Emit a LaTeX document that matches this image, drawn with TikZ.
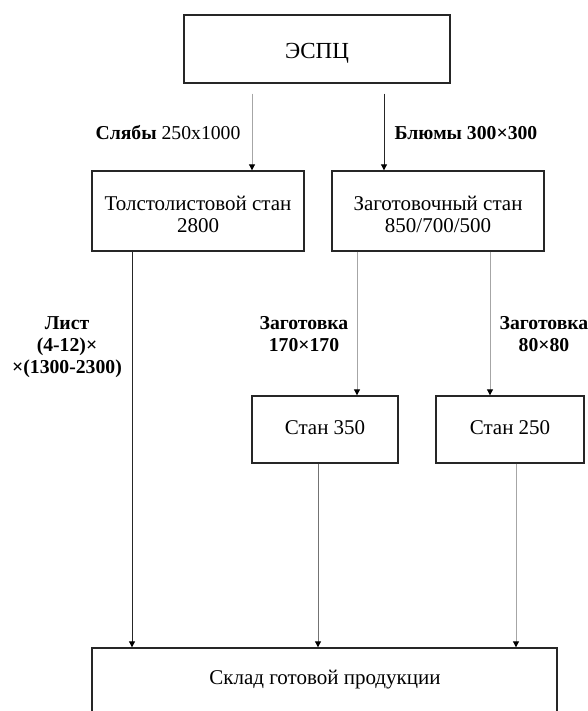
\documentclass[tikz,border=0pt]{standalone}
\usepackage{fontspec}
\setmainfont{Liberation Serif}
\usetikzlibrary{arrows.meta}
\begin{document}
\begin{tikzpicture}[x=1pt,y=-1pt,
  box/.style={draw=black!85, line width=1.4pt, inner sep=0pt},
  btxt/.style={inner sep=0pt, align=center, font=\fontsize{21}{22}\selectfont},
  lbl/.style={inner sep=0pt, align=center, font=\fontsize{19.7}{22}\selectfont},
  conn/.style={line width=1pt, -{Triangle[length=6pt,width=6pt,color=black]}},
  lite/.style={conn, draw=black!35},
  mid/.style={conn, draw=black!55},
  dark/.style={conn, draw=black!85}]
\useasboundingbox (0,0) rectangle (588,711);
\fill[white] (0,0) rectangle (588,711);
% boxes
\node[box, minimum width=266pt, minimum height=68pt] (espc) at (317,49) {};
\node[btxt, font=\fontsize{23}{24}\selectfont] (espc-t) at (317,53) {ЭСПЦ};
\node[box, minimum width=212pt, minimum height=80pt] (tol) at (198,211) {};
\node[btxt] (tol-t) at (198,214) {Толстолистовой стан\\2800};
\node[box, minimum width=212pt, minimum height=80pt] (zag) at (438,211) {};
\node[btxt] (zag-t) at (438,214) {Заготовочный стан\\850/700/500};
\node[box, minimum width=146pt, minimum height=67pt] (s350) at (325,429.5) {};
\node[btxt] (s350-t) at (325,428) {Стан 350};
\node[box, minimum width=148pt, minimum height=67pt] (s250) at (510,429.5) {};
\node[btxt] (s250-t) at (510,428) {Стан 250};
\node[box, minimum width=465pt, minimum height=68pt] (sklad) at (324.5,682) {};
\node[btxt] (sklad-t) at (325,680) {Склад готовой продукции};
% labels
\node[lbl] (l1) at (168,133) {\textbf{Слябы} 250x1000};
\node[lbl] (l2) at (466,133) {\textbf{Блюмы 300×300}};
\node[lbl] (l3) at (67,347) {\textbf{Лист}\\\textbf{(4-12)×}\\\textbf{×(1300-2300)}};
\node[lbl] (l4) at (304,334) {\textbf{Заготовка}\\\textbf{170×170}};
\node[lbl] (l5) at (544,334) {\textbf{Заготовка}\\\textbf{80×80}};
% connectors
\draw[lite, shorten <=10pt] (espc.south -| 252,0) -- (tol.north -| 252,0);
\draw[dark, shorten <=10pt] (espc.south -| 384,0) -- (zag.north -| 384,0);
\draw[dark] (tol.south -| 132,0) -- (sklad.north -| 132,0);
\draw[lite] (zag.south -| 357,0) -- (s350.north -| 357,0);
\draw[lite] (zag.south -| 490,0) -- (s250.north -| 490,0);
\draw[mid] (s350.south -| 318,0) -- (sklad.north -| 318,0);
\draw[lite] (s250.south -| 516,0) -- (sklad.north -| 516,0);
\end{tikzpicture}
\end{document}
